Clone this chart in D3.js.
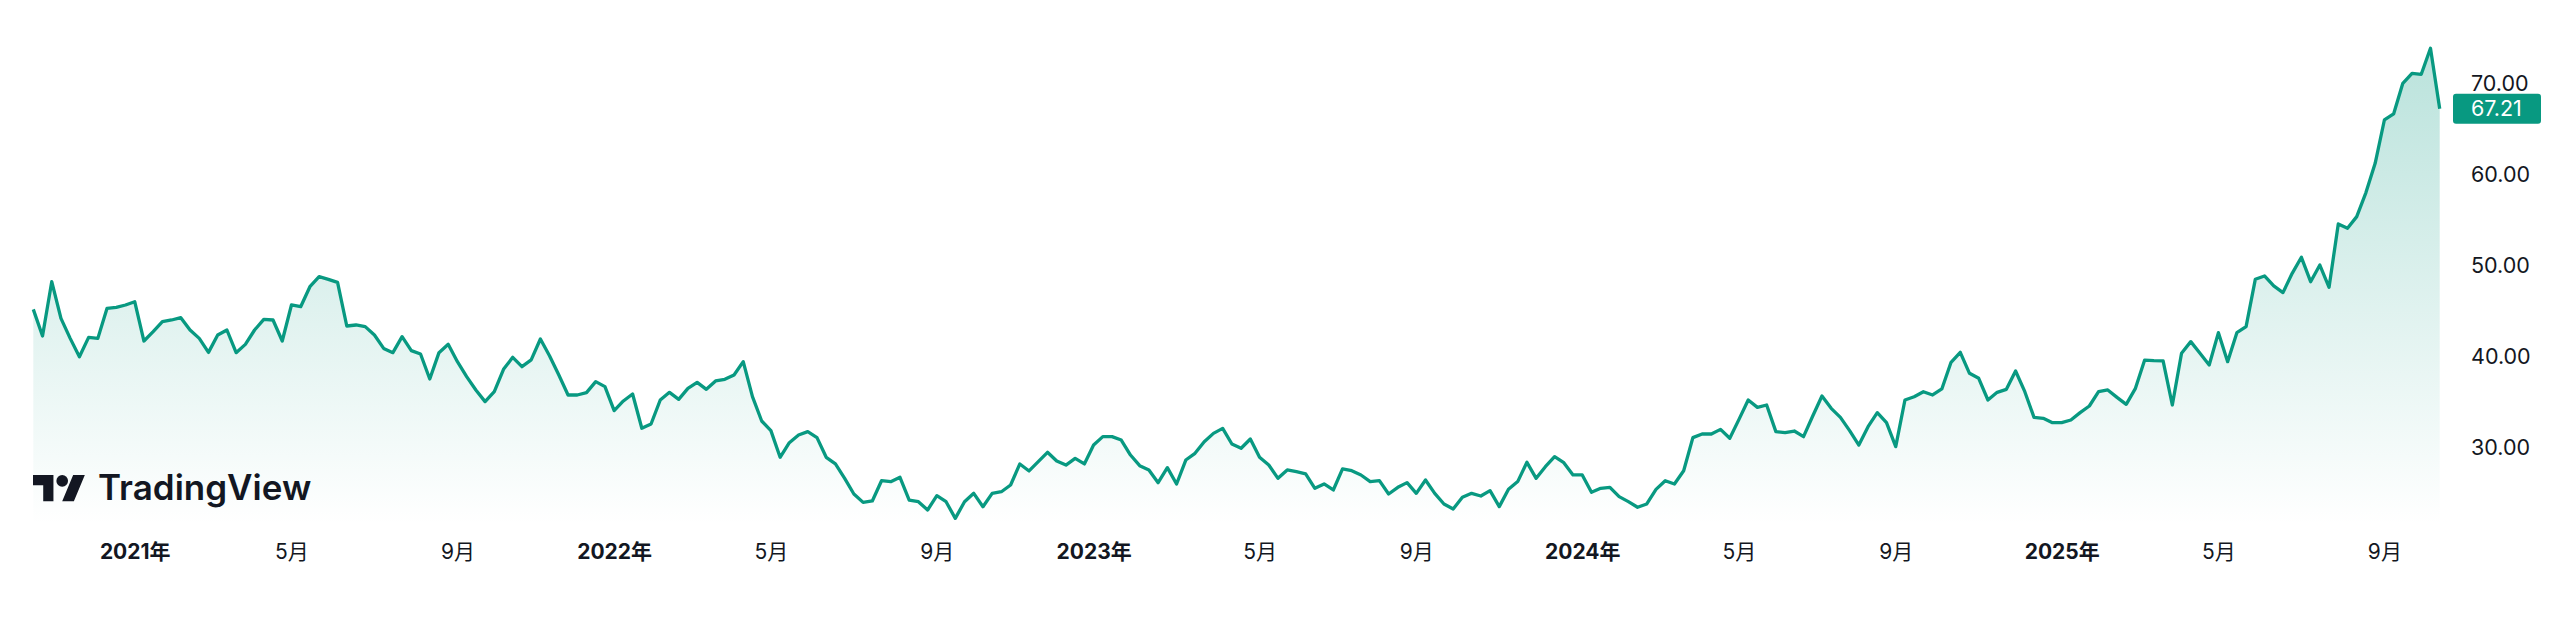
<!DOCTYPE html>
<html>
<head>
<meta charset="utf-8">
<script src="https://cdn.jsdelivr.net/npm/d3@7"></script>
<style>
  html, body { margin: 0; padding: 0; background: #fff; }
  svg { display: block; font-family: Inter, "Noto Sans CJK SC", sans-serif; }
</style>
</head>
<body>
<div id="chart"></div>
<script>
// weekly closes, first bar week of 2020-10-12, last bar week of 2025-10-13
const firstWeek = new Date(2020, 9, 12),
      lastWeek = new Date(2025, 9, 13)

const weeklyClose = [
  45.16, 42.23, 48.2, 44.17, 41.97, 39.96, 42.08, 41.97, 45.27, 45.38,
  45.64, 46.0, 41.68, 42.71, 43.8, 43.99, 44.24, 42.89, 41.97, 40.43,
  42.34, 42.89, 40.4, 41.31, 42.89, 44.06, 43.99, 41.68, 45.64, 45.45,
  47.65, 48.75, 48.46, 48.13, 43.33, 43.44, 43.26, 42.34, 40.87, 40.4,
  42.16, 40.62, 40.25, 37.5, 40.4, 41.32, 39.41, 37.77, 36.3, 35.02,
  36.12, 38.57, 39.89, 38.86, 39.6, 41.9, 40.04, 37.95, 35.75, 35.75,
  36.01, 37.22, 36.67, 34.03, 35.09, 35.86, 32.09, 32.56, 35.2, 36.04,
  35.27, 36.48, 37.14, 36.37, 37.29, 37.47, 37.95, 39.41, 35.57, 32.89,
  31.83, 28.9, 30.51, 31.35, 31.72, 31.06, 28.9, 28.17, 26.59, 24.87,
  23.95, 24.1, 26.33, 26.22, 26.7, 24.2, 24.02, 23.11, 24.68, 24.02,
  22.19, 24.02, 24.94, 23.47, 24.94, 25.12, 25.86, 28.17, 27.4, 28.42,
  29.45, 28.49, 28.05, 28.79, 28.17, 30.25, 31.17, 31.17, 30.8, 29.15,
  27.98, 27.5, 26.11, 27.76, 25.97, 28.6, 29.34, 30.62, 31.53, 32.08,
  30.36, 29.9, 30.91, 28.9, 28.06, 26.59, 27.51, 27.32, 27.07, 25.49,
  25.97, 25.31, 27.62, 27.43, 26.96, 26.23, 26.34, 24.87, 25.6, 26.12,
  24.94, 26.41, 24.94, 23.77, 23.22, 24.5, 24.94, 24.65, 25.24, 23.48,
  25.38, 26.23, 28.35, 26.59, 27.87, 28.97, 28.31, 26.96, 26.96, 25.05,
  25.49, 25.6, 24.58, 24.03, 23.41, 23.77, 25.38, 26.33, 25.97, 27.43,
  31.06, 31.46, 31.46, 31.97, 30.99, 33.07, 35.2, 34.39, 34.65, 31.72,
  31.61, 31.79, 31.17, 33.44, 35.64, 34.28, 33.29, 31.83, 30.25, 32.27,
  33.81, 32.71, 30.07, 35.2, 35.56, 36.11, 35.75, 36.41, 39.34, 40.44,
  38.13, 37.58, 35.2, 36.04, 36.37, 38.38, 36.11, 33.29, 33.19, 32.71,
  32.71, 33.0, 33.81, 34.54, 36.12, 36.3, 35.49, 34.72, 36.48, 39.59,
  39.52, 39.49, 34.65, 40.33, 41.61, 40.33, 39.05, 42.6, 39.41, 42.6,
  43.26, 48.46, 48.83, 47.73, 47.0, 49.12, 50.88, 48.2, 50.03, 47.58,
  54.54, 54.07, 55.35, 57.99, 61.21, 65.97, 66.63, 70.0, 71.1, 70.99,
  73.85, 67.21
]

const priceTicks = [30, 40, 50, 60, 70]
const timeTicks = ["2021-01", "2021-05", "2021-09", "2022-01", "2022-05", "2022-09",
                   "2023-01", "2023-05", "2023-09", "2024-01", "2024-05", "2024-09",
                   "2025-01", "2025-05", "2025-09"]

const width = 2560, height = 619
const conf = { left: 33.3, right: 2439.7, areaBottom: 525, color: "#089981", text: "#131722" }

const weeks = d3.timeMonday.range(firstWeek, d3.timeDay.offset(lastWeek, 1))
const data = weeks.map((d, i) => ({ date: d, value: weeklyClose[i] }))

const svg = d3.select("#chart").append("svg")
    .attr("width", width)
    .attr("height", height)
    .attr("viewBox", [0, 0, width, height])

const x = d3.scaleTime()
    .domain([firstWeek, lastWeek])
    .range([conf.left, conf.right])
const y = d3.scaleLinear()
    .domain([20, 75])
    .range([538.3, 37.8])

const grad = svg.append("defs").append("linearGradient")
    .attr("id", "areaFill")
    .attr("gradientUnits", "userSpaceOnUse")
    .attr("x1", 0).attr("x2", 0)
    .attr("y1", y(d3.max(weeklyClose))).attr("y2", conf.areaBottom)
grad.append("stop").attr("offset", 0).attr("stop-color", conf.color).attr("stop-opacity", 0.28)
grad.append("stop").attr("offset", 1).attr("stop-color", conf.color).attr("stop-opacity", 0.0)

svg.append("path")
    .datum(data)
    .attr("fill", "url(#areaFill)")
    .attr("d", d3.area()
        .x(d => x(d.date))
        .y0(conf.areaBottom)
        .y1(d => y(d.value)))

// watermark
const logo = svg.append("g").attr("fill", conf.text)
logo.append("g")
    .attr("transform", "translate(33,469.2) scale(1.46)")
    .call(g => g.append("path").attr("d", "M14 22H7V11H0V4h14v18zM28 22h-8l7.5-18h8L28 22z"))
    .call(g => g.append("circle").attr("cx", 20).attr("cy", 8).attr("r", 4))
logo.append("text")
    .attr("x", 98)
    .attr("y", 500)
    .attr("font-size", 35)
    .attr("font-weight", 600)
    .text("TradingView")

svg.append("path")
    .datum(data)
    .attr("fill", "none")
    .attr("stroke", conf.color)
    .attr("stroke-width", 3.3)
    .attr("stroke-linejoin", "round")
    .attr("d", d3.line()
        .x(d => x(d.date))
        .y(d => y(d.value)))

// price scale
svg.append("g")
    .attr("class", "yAxes")
    .attr("transform", "translate(2471,0)")
    .call(d3.axisRight(y).tickValues(priceTicks).tickFormat(d3.format(".2f")).tickSize(0).tickPadding(0))
    .call(g => g.select(".domain").remove())
    .call(g => g.selectAll("text")
        .attr("font-size", 21.5)
        .attr("font-family", "Inter, sans-serif")
        .attr("fill", conf.text))

const last = data[data.length - 1]
const badge = svg.append("g").attr("transform", `translate(0,${y(last.value)})`)
badge.append("rect")
    .attr("x", 2453).attr("y", -15)
    .attr("width", 88).attr("height", 30)
    .attr("rx", 3)
    .attr("fill", conf.color)
badge.append("text")
    .attr("x", 2471).attr("dy", "0.35em")
    .attr("font-size", 21.5)
    .attr("fill", "#fff")
    .text(d3.format(".2f")(last.value))

// time scale, labels sit on the weekly bar holding the 1st of the month
const tickDates = timeTicks.map(t => {
    const [yy, mm] = t.split("-").map(Number)
    return { month: mm, year: yy, at: d3.timeMonday.floor(new Date(yy, mm - 1, 1)) }
})
svg.append("g")
    .attr("class", "xAxes")
    .attr("transform", "translate(0,552)")
    .call(d3.axisBottom(x).tickValues(tickDates.map(d => d.at)).tickSize(0).tickPadding(0)
        .tickFormat((d, i) => tickDates[i].month === 1 ? tickDates[i].year + "年" : tickDates[i].month + "月"))
    .call(g => g.select(".domain").remove())
    .call(g => g.selectAll("text")
        .attr("dy", "0.35em")
        .attr("y", 0)
        .attr("font-size", 21)
        .attr("font-family", "Inter, 'Noto Sans CJK SC', sans-serif")
        .attr("font-weight", (d, i) => tickDates[i].month === 1 ? 700 : 400)
        .attr("fill", conf.text))
</script>
</body>
</html>
